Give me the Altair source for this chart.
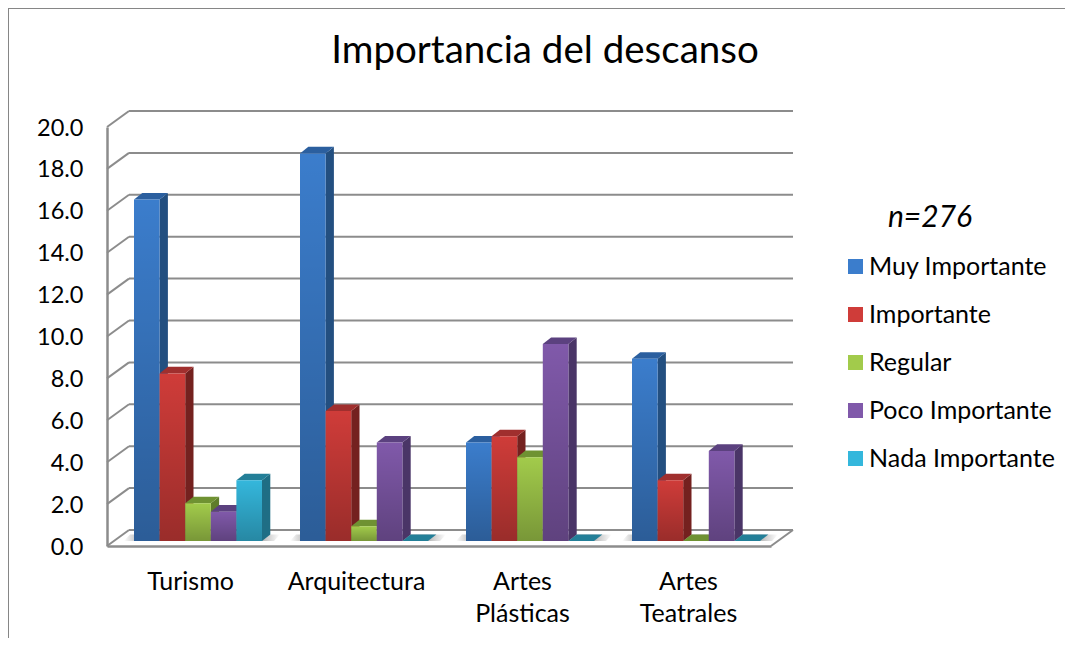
import json
import altair as alt
import pandas as pd

title_text = "Importancia del descanso"
note_text = "n=276"
categories = ["Turismo", "Arquitectura", "Artes Plásticas", "Artes Teatrales"]
series = ["Muy Importante", "Importante", "Regular", "Poco Importante", "Nada Importante"]
muy_importante = [16.3, 18.5, 4.7, 8.7]
importante = [8.0, 6.2, 5.0, 2.9]
regular = [1.8, 0.7, 4.0, 0.0]
poco_importante = [1.4, 4.7, 9.4, 4.3]
nada_importante = [2.9, 0.0, 0.0, 0.0]
all_values = [muy_importante, importante, regular, poco_importante, nada_importante]
y_ticks = list(range(0, 21, 2))

front_colors = ["#3b7dcc", "#cf3c39", "#a2cb4b", "#8059aa", "#34b7dc"]
top_colors = ["#2b5f9f", "#a02f2e", "#6f9232", "#5b417f", "#237f98"]
side_colors = ["#234f80", "#74211f", "#5f7d2a", "#4a3567", "#1f6e85"]
line_color = "#8c8c8c"
font = "Lato"

W, H = 664, 419
PX_X = 1 / (W / 4)    # one pixel in category units
PX_Y = 1 / (H / 20)   # one pixel in value units
WALL_X, WALL_Y = 22 * PX_X, 16 * PX_Y
BAR_W = 25.6 * PX_X
BASE_X, BASE_Y = 8 * PX_X, 5 * PX_Y
DEPTH_X, DEPTH_Y = 8.3 * PX_X, 6.6 * PX_Y

X = alt.Scale(domain=[-0.5, 3.5], nice=False, zero=False)
Y = alt.Scale(domain=[0, 20], nice=False, zero=False)

fronts, sides, tops = [], [], []
for c, cat in enumerate(categories):
    for s, name in enumerate(series):
        v = all_values[s][c]
        left = c + (s - 2.5) * BAR_W + BASE_X
        right = left + BAR_W
        key = f"k{c}{s}"
        fronts.append(dict(serie=name, x=left, x2=right, y=v + BASE_Y, y2=BASE_Y))
        sides.append(dict(serie=name, key=key, x=right, y=v + BASE_Y, y2=BASE_Y))
        sides.append(dict(serie=name, key=key, x=right + DEPTH_X, y=v + BASE_Y + DEPTH_Y, y2=BASE_Y + DEPTH_Y))
        tops.append(dict(serie=name, key=key, x=left, x2=right, y=v + BASE_Y))
        tops.append(dict(serie=name, key=key, x=left + DEPTH_X, x2=right + DEPTH_X, y=v + BASE_Y + DEPTH_Y))

fronts, sides, tops = map(pd.DataFrame, (fronts, sides, tops))

shadow = []
for c in range(len(categories)):
    left = c - 2.5 * BAR_W + BASE_X
    right = c + 2.5 * BAR_W + BASE_X
    shadow.append(dict(key=f"c{c}", x=left - 10 * PX_X, x2=right + 12 * PX_X, y=BASE_Y))
    shadow.append(dict(key=f"c{c}", x=left - 4 * PX_X, x2=right + 18 * PX_X, y=BASE_Y + DEPTH_Y))
shadow = pd.DataFrame(shadow)

grid = pd.DataFrame(dict(x=[-0.5 + WALL_X] * len(y_ticks), x2=[3.5 + WALL_X] * len(y_ticks),
                         y=[t + WALL_Y for t in y_ticks]))
slant = []
for t in y_ticks:
    slant.append(dict(key=f"l{t}", x=-0.5, y=t, o=0))
    slant.append(dict(key=f"l{t}", x=-0.5 + WALL_X, y=t + WALL_Y, o=1))
slant.append(dict(key="r", x=3.5, y=0, o=0))
slant.append(dict(key="r", x=3.5 + WALL_X, y=WALL_Y, o=1))
slant = pd.DataFrame(slant)

axis_base = pd.DataFrame(dict(x=[0], y=[0]))
note_table = pd.DataFrame(dict(note=[note_text]))

label_expr = "split(" + json.dumps(categories, ensure_ascii=False) + "[datum.value], ' ')"

x_axis = alt.Axis(
    values=[0, 1, 2, 3], labelExpr=label_expr, title=None, grid=False, ticks=False,
    domainColor=line_color, domainWidth=2.5, labelFont=font, labelFontSize=25,
    labelColor="#000000", labelPadding=35, labelLineHeight=32, labelBaseline="middle",
    labelFlush=False, labelOverlap=False)
y_axis = alt.Axis(
    values=y_ticks, format=".1f", title=None, grid=False, ticks=False,
    domainColor=line_color, domainWidth=2.5, labelFont=font, labelFontSize=23.5,
    labelColor="#000000", labelPadding=24, labelOffset=1, labelFlush=False, labelOverlap=False)

x_plain = alt.X("x:Q", scale=X, axis=x_axis)
y_plain = alt.Y("y:Q", scale=Y, axis=y_axis)
x_free = alt.X("x:Q", scale=X, axis=x_axis, stack=False)
y_free = alt.Y("y:Q", scale=Y, axis=y_axis, stack=False)

grid_layer = alt.Chart(grid).mark_rule(color=line_color, strokeWidth=2).encode(
    x=x_plain, x2="x2:Q", y=y_plain)
slant_layer = alt.Chart(slant).mark_line(color=line_color, strokeWidth=2).encode(
    x=x_plain, y=y_plain, detail="key:N", order="o:Q")

shadow_fill = alt.Gradient(gradient="linear", x1=0, x2=1, y1=0, y2=0, stops=[
    alt.GradientStop(color="#ffffff", offset=0),
    alt.GradientStop(color="#b4b4b4", offset=0.1),
    alt.GradientStop(color="#b4b4b4", offset=0.88),
    alt.GradientStop(color="#ffffff", offset=1),
])
shadow_layer = alt.Chart(shadow).mark_area(orient="horizontal", fill=shadow_fill, opacity=1).encode(
    x=x_free, x2="x2:Q", y=y_free, detail="key:N")

side_layer = alt.Chart(sides).mark_area(orient="vertical", opacity=1).encode(
    x=x_free, y=y_free, y2="y2:Q", detail="key:N",
    color=alt.Color("serie:N", legend=None, scale=alt.Scale(domain=series, range=side_colors)))
top_layer = alt.Chart(tops).mark_area(orient="horizontal", opacity=1).encode(
    x=x_free, x2="x2:Q", y=y_free, detail="key:N",
    color=alt.Color("serie:N", legend=None, scale=alt.Scale(domain=series, range=top_colors)))

front_layer = alt.Chart(fronts).mark_rect().encode(
    x=x_plain, x2="x2:Q", y=y_plain, y2="y2:Q",
    color=alt.Color("serie:N", sort=series, scale=alt.Scale(domain=series, range=front_colors),
                    legend=alt.Legend(
                        title=None, orient="none", legendX=736, legendY=127,
                        labelFont=font, labelFontSize=25, labelColor="#000000",
                        labelOffset=1, symbolType="square", symbolSize=225, symbolStrokeWidth=0,
                        rowPadding=22, labelLimit=260)))

shade_fill = alt.Gradient(gradient="linear", x1=0, x2=0, y1=0, y2=1, stops=[
    alt.GradientStop(color="rgba(0,0,0,0)", offset=0),
    alt.GradientStop(color="rgba(0,0,0,0.26)", offset=1),
])
shade_layer = alt.Chart(fronts[fronts.y > fronts.y2]).mark_rect(fill=shade_fill).encode(
    x=x_plain, x2="x2:Q", y=y_plain, y2="y2:Q")

note_layer = alt.Chart(note_table).mark_text(
    font=font, fontSize=30, fontStyle="italic", color="#000000", align="center", baseline="middle"
).encode(x=alt.value(823), y=alt.value(91), text="note:N")

PAD = {"left": 99, "top": 119, "right": 294, "bottom": 92}
frame_left = alt.Chart(axis_base).mark_rule(color="#868686", strokeWidth=2).encode(
    x=alt.value(-PAD["left"]), y=alt.value(-PAD["top"]), y2=alt.value(H + PAD["bottom"]))
frame_top = alt.Chart(axis_base).mark_rule(color="#868686", strokeWidth=2).encode(
    y=alt.value(-PAD["top"]), x=alt.value(-PAD["left"]), x2=alt.value(W + PAD["right"]))

chart = alt.layer(
    frame_left, frame_top, grid_layer, slant_layer, shadow_layer,
    side_layer, top_layer, front_layer, shade_layer, note_layer,
).resolve_scale(color="independent").properties(
    width=W, height=H,
    background="#ffffff",
    padding=PAD,
    autosize=alt.AutoSizeParams(type="none"),
    title=alt.TitleParams(title_text, font=font, fontSize=38.5, fontWeight="normal", color="#000000",
                          anchor="middle", dx=106, dy=64, offset=0),
).configure_view(stroke=None)

chart.save("out.html", embed_options={"renderer": "svg", "actions": False})
